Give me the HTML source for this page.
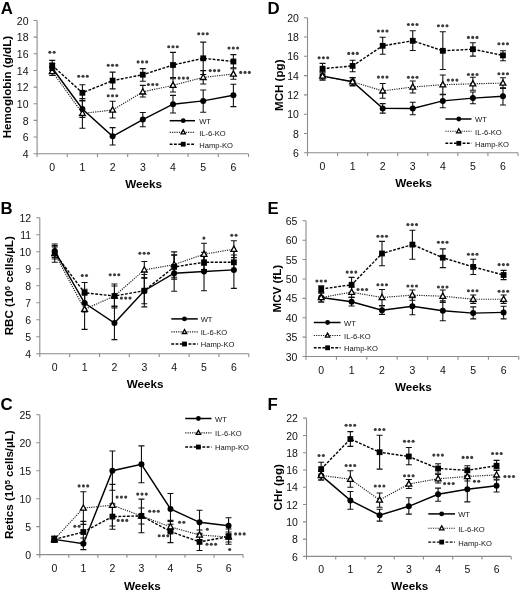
<!DOCTYPE html>
<html><head><meta charset="utf-8"><style>
html,body{margin:0;padding:0;background:#fff;}
body{width:520px;height:592px;overflow:hidden;}
svg{display:block;font-family:"Liberation Sans", sans-serif;filter:blur(0.3px);}
</style></head><body>
<svg width="520" height="592" viewBox="0 0 520 592">
<rect width="520" height="592" fill="#fff"/>
<g stroke="#8c8c8c" stroke-width="1.1" fill="none">
<path d="M37.1 20.5V156.9M33.6 153.7H248.5"/>
<path d="M33.6 137.05H37.1M33.6 120.4H37.1M33.6 103.75H37.1M33.6 87.1H37.1M33.6 70.45H37.1M33.6 53.8H37.1M33.6 37.15H37.1M33.6 20.5H37.1M67.3 153.7V156.9M97.5 153.7V156.9M127.7 153.7V156.9M157.9 153.7V156.9M188.1 153.7V156.9M218.3 153.7V156.9M248.5 153.7V156.9"/>
</g>
<g font-size="10.5" fill="#111" text-anchor="end">
<text x="28.5" y="157.8">4</text>
<text x="28.5" y="141.15">6</text>
<text x="28.5" y="124.5">8</text>
<text x="28.5" y="107.85">10</text>
<text x="28.5" y="91.2">12</text>
<text x="28.5" y="74.55">14</text>
<text x="28.5" y="57.9">16</text>
<text x="28.5" y="41.25">18</text>
<text x="28.5" y="24.6">20</text>
</g>
<g font-size="10.5" fill="#111" text-anchor="middle">
<text x="52.2" y="170.7">0</text>
<text x="82.4" y="170.7">1</text>
<text x="112.6" y="170.7">2</text>
<text x="142.8" y="170.7">3</text>
<text x="173" y="170.7">4</text>
<text x="203.2" y="170.7">5</text>
<text x="233.4" y="170.7">6</text>
</g>
<text x="143.7" y="187.8" font-size="11.7" font-weight="bold" text-anchor="middle">Weeks</text>
<text transform="translate(10.6 87.1) rotate(-90)" font-size="11.6" font-weight="bold" text-anchor="middle">Hemoglobin (g/dL)</text>
<text x="0.8" y="13.5" font-size="16.8" font-weight="bold">A</text>
<g stroke="#111" stroke-width="1.1" fill="none">
<path d="M52.2 63.5V72.5M49.2 63.5H55.2M49.2 72.5H55.2M82.4 100.5V117.5M79.4 100.5H85.4M79.4 117.5H85.4M112.6 127.6V145M109.6 127.6H115.6M109.6 145H115.6M142.8 112.5V126.7M139.8 112.5H145.8M139.8 126.7H145.8M173 95.4V113M170 95.4H176M170 113H176M203.2 90V112.3M200.2 90H206.2M200.2 112.3H206.2M233.4 84.3V106.6M230.4 84.3H236.4M230.4 106.6H236.4"/>
<path d="M52.2 67V75.5M49.2 67H55.2M49.2 75.5H55.2M82.4 98.6V128.2M79.4 98.6H85.4M79.4 128.2H85.4M112.6 101.3V118M109.6 101.3H115.6M109.6 118H115.6M142.8 85.4V97M139.8 85.4H145.8M139.8 97H145.8M173 78.7V92M170 78.7H176M170 92H176M203.2 70.6V84M200.2 70.6H206.2M200.2 84H206.2M233.4 68.8V79.2M230.4 68.8H236.4M230.4 79.2H236.4"/>
<path d="M52.2 60.4V70.4M49.2 60.4H55.2M49.2 70.4H55.2M82.4 84.7V100.9M79.4 84.7H85.4M79.4 100.9H85.4M112.6 72.1V88.9M109.6 72.1H115.6M109.6 88.9H115.6M142.8 68.6V81.2M139.8 68.6H145.8M139.8 81.2H145.8M173 52.4V77.6M170 52.4H176M170 77.6H176M203.2 42.1V74.5M200.2 42.1H206.2M200.2 74.5H206.2M233.4 54.6V67.8M230.4 54.6H236.4M230.4 67.8H236.4"/>
</g>
<polyline points="52.2,71.5 82.4,113.4 112.6,110 142.8,91.9 173,85.3 203.2,77.4 233.4,74" fill="none" stroke="#222" stroke-width="1.15" stroke-dasharray="1.2 1.1"/>
<polyline points="52.2,68 82.4,109 112.6,136.3 142.8,119.6 173,104.2 203.2,100.9 233.4,95.2" fill="none" stroke="#000" stroke-width="1.45"/>
<polyline points="52.2,65.4 82.4,92.8 112.6,80.6 142.8,74.7 173,65 203.2,58.3 233.4,61.5" fill="none" stroke="#000" stroke-width="1.4" stroke-dasharray="2.8 1.5"/>
<path d="M52.2 68.37L55.1 73.59L49.3 73.59Z" fill="#fff" stroke="#000" stroke-width="1.3"/>
<path d="M82.4 110.27L85.3 115.49L79.5 115.49Z" fill="#fff" stroke="#000" stroke-width="1.3"/>
<path d="M112.6 106.87L115.5 112.09L109.7 112.09Z" fill="#fff" stroke="#000" stroke-width="1.3"/>
<path d="M142.8 88.77L145.7 93.99L139.9 93.99Z" fill="#fff" stroke="#000" stroke-width="1.3"/>
<path d="M173 82.17L175.9 87.39L170.1 87.39Z" fill="#fff" stroke="#000" stroke-width="1.3"/>
<path d="M203.2 74.27L206.1 79.49L200.3 79.49Z" fill="#fff" stroke="#000" stroke-width="1.3"/>
<path d="M233.4 70.87L236.3 76.09L230.5 76.09Z" fill="#fff" stroke="#000" stroke-width="1.3"/>
<circle cx="52.2" cy="68" r="3" fill="#000"/>
<circle cx="82.4" cy="109" r="3" fill="#000"/>
<circle cx="112.6" cy="136.3" r="3" fill="#000"/>
<circle cx="142.8" cy="119.6" r="3" fill="#000"/>
<circle cx="173" cy="104.2" r="3" fill="#000"/>
<circle cx="203.2" cy="100.9" r="3" fill="#000"/>
<circle cx="233.4" cy="95.2" r="3" fill="#000"/>
<rect x="49.3" y="62.5" width="5.8" height="5.8" fill="#000"/>
<rect x="79.5" y="89.9" width="5.8" height="5.8" fill="#000"/>
<rect x="109.7" y="77.7" width="5.8" height="5.8" fill="#000"/>
<rect x="139.9" y="71.8" width="5.8" height="5.8" fill="#000"/>
<rect x="170.1" y="62.1" width="5.8" height="5.8" fill="#000"/>
<rect x="200.3" y="55.4" width="5.8" height="5.8" fill="#000"/>
<rect x="230.5" y="58.6" width="5.8" height="5.8" fill="#000"/>
<g fill="#3c3c3c">
<circle cx="49.85" cy="52.3" r="1.55"/>
<circle cx="54.15" cy="52.3" r="1.55"/>
<circle cx="78.7" cy="76.2" r="1.55"/>
<circle cx="83" cy="76.2" r="1.55"/>
<circle cx="87.3" cy="76.2" r="1.55"/>
<circle cx="108.2" cy="65.2" r="1.55"/>
<circle cx="112.5" cy="65.2" r="1.55"/>
<circle cx="116.8" cy="65.2" r="1.55"/>
<circle cx="108.2" cy="95.8" r="1.55"/>
<circle cx="112.5" cy="95.8" r="1.55"/>
<circle cx="116.8" cy="95.8" r="1.55"/>
<circle cx="138.1" cy="61.9" r="1.55"/>
<circle cx="142.4" cy="61.9" r="1.55"/>
<circle cx="146.7" cy="61.9" r="1.55"/>
<circle cx="148.4" cy="84.5" r="1.55"/>
<circle cx="152.7" cy="84.5" r="1.55"/>
<circle cx="157" cy="84.5" r="1.55"/>
<circle cx="168.7" cy="46.7" r="1.55"/>
<circle cx="173" cy="46.7" r="1.55"/>
<circle cx="177.3" cy="46.7" r="1.55"/>
<circle cx="179.1" cy="78.1" r="1.55"/>
<circle cx="183.4" cy="78.1" r="1.55"/>
<circle cx="187.7" cy="78.1" r="1.55"/>
<circle cx="198.7" cy="33.7" r="1.55"/>
<circle cx="203" cy="33.7" r="1.55"/>
<circle cx="207.3" cy="33.7" r="1.55"/>
<circle cx="210.2" cy="70.6" r="1.55"/>
<circle cx="214.5" cy="70.6" r="1.55"/>
<circle cx="218.8" cy="70.6" r="1.55"/>
<circle cx="229" cy="48" r="1.55"/>
<circle cx="233.3" cy="48" r="1.55"/>
<circle cx="237.6" cy="48" r="1.55"/>
<circle cx="240.7" cy="72.4" r="1.55"/>
<circle cx="245" cy="72.4" r="1.55"/>
<circle cx="249.3" cy="72.4" r="1.55"/>
</g>
<line x1="169.7" y1="120.7" x2="195" y2="120.7" stroke="#000" stroke-width="1.5"/>
<line x1="169.7" y1="132.3" x2="195" y2="132.3" stroke="#222" stroke-width="1.15" stroke-dasharray="1.2 1.1"/>
<line x1="169.7" y1="144.2" x2="195" y2="144.2" stroke="#000" stroke-width="1.4" stroke-dasharray="2.8 1.5"/>
<circle cx="183.2" cy="120.7" r="2.4" fill="#000"/>
<path d="M183.2 129.92L185.4 133.88L181 133.88Z" fill="#fff" stroke="#000" stroke-width="1.3"/>
<rect x="180.8" y="141.8" width="4.8" height="4.8" fill="#000"/>
<g font-size="7.6" fill="#111">
<text x="199.2" y="124.1">WT</text>
<text x="199.2" y="135.7">IL-6-KO</text>
<text x="199.2" y="147.6">Hamp-KO</text>
</g>
<g stroke="#8c8c8c" stroke-width="1.1" fill="none">
<path d="M307.5 17.7V156M304 152.8H517.99"/>
<path d="M304 133.5H307.5M304 114.2H307.5M304 94.9H307.5M304 75.6H307.5M304 56.3H307.5M304 37H307.5M304 17.7H307.5M337.57 152.8V156M367.64 152.8V156M397.71 152.8V156M427.78 152.8V156M457.85 152.8V156M487.92 152.8V156M517.99 152.8V156"/>
</g>
<g font-size="10.5" fill="#111" text-anchor="end">
<text x="298.9" y="156.9">6</text>
<text x="298.9" y="137.6">8</text>
<text x="298.9" y="118.3">10</text>
<text x="298.9" y="99">12</text>
<text x="298.9" y="79.7">14</text>
<text x="298.9" y="60.4">16</text>
<text x="298.9" y="41.1">18</text>
<text x="298.9" y="21.8">20</text>
</g>
<g font-size="10.5" fill="#111" text-anchor="middle">
<text x="322.54" y="169.8">0</text>
<text x="352.61" y="169.8">1</text>
<text x="382.68" y="169.8">2</text>
<text x="412.75" y="169.8">3</text>
<text x="442.81" y="169.8">4</text>
<text x="472.88" y="169.8">5</text>
<text x="502.96" y="169.8">6</text>
</g>
<text x="413.64" y="187.4" font-size="11.7" font-weight="bold" text-anchor="middle">Weeks</text>
<text transform="translate(283 85.25) rotate(-90)" font-size="11.6" font-weight="bold" text-anchor="middle">MCH (pg)</text>
<text x="267.6" y="13.8" font-size="16.8" font-weight="bold">D</text>
<g stroke="#111" stroke-width="1.1" fill="none">
<path d="M322.54 72V80M319.54 72H325.54M319.54 80H325.54M352.61 78V85.5M349.61 78H355.61M349.61 85.5H355.61M382.68 103.6V113.1M379.68 103.6H385.68M379.68 113.1H385.68M412.75 102.2V114.7M409.75 102.2H415.75M409.75 114.7H415.75M442.81 94.6V107.8M439.81 94.6H445.81M439.81 107.8H445.81M472.88 92V103.8M469.88 92H475.88M469.88 103.8H475.88M502.96 88.4V105M499.96 88.4H505.96M499.96 105H505.96"/>
<path d="M322.54 72V80M319.54 72H325.54M319.54 80H325.54M352.61 77.5V86M349.61 77.5H355.61M349.61 86H355.61M382.68 83.5V98.3M379.68 83.5H385.68M379.68 98.3H385.68M412.75 81V93M409.75 81H415.75M409.75 93H415.75M442.81 75V94.4M439.81 75H445.81M439.81 94.4H445.81M472.88 77.3V90.3M469.88 77.3H475.88M469.88 90.3H475.88M502.96 77.8V87.7M499.96 77.8H505.96M499.96 87.7H505.96"/>
<path d="M322.54 63.4V74M319.54 63.4H325.54M319.54 74H325.54M352.61 60.2V71.8M349.61 60.2H355.61M349.61 71.8H355.61M382.68 37.3V54.3M379.68 37.3H385.68M379.68 54.3H385.68M412.75 30.7V50.5M409.75 30.7H415.75M409.75 50.5H415.75M442.81 31.8V69.5M439.81 31.8H445.81M439.81 69.5H445.81M472.88 42.7V56.1M469.88 42.7H475.88M469.88 56.1H475.88M502.96 50.8V60.7M499.96 50.8H505.96M499.96 60.7H505.96"/>
</g>
<polyline points="322.54,76.1 352.61,81.8 382.68,90.9 412.75,87 442.81,84.7 472.88,83.8 502.96,83.1" fill="none" stroke="#222" stroke-width="1.15" stroke-dasharray="1.2 1.1"/>
<polyline points="322.54,76.1 352.61,81.8 382.68,108.4 412.75,108.5 442.81,100.9 472.88,98.1 502.96,96.2" fill="none" stroke="#000" stroke-width="1.45"/>
<polyline points="322.54,68.7 352.61,65.9 382.68,45.8 412.75,40.8 442.81,50.8 472.88,49.2 502.96,55.4" fill="none" stroke="#000" stroke-width="1.4" stroke-dasharray="2.8 1.5"/>
<circle cx="322.54" cy="76.1" r="3" fill="#000"/>
<circle cx="352.61" cy="81.8" r="3" fill="#000"/>
<circle cx="382.68" cy="108.4" r="3" fill="#000"/>
<circle cx="412.75" cy="108.5" r="3" fill="#000"/>
<circle cx="442.81" cy="100.9" r="3" fill="#000"/>
<circle cx="472.88" cy="98.1" r="3" fill="#000"/>
<circle cx="502.96" cy="96.2" r="3" fill="#000"/>
<path d="M322.54 72.97L325.44 78.19L319.64 78.19Z" fill="#fff" stroke="#000" stroke-width="1.3"/>
<path d="M352.61 78.67L355.5 83.89L349.71 83.89Z" fill="#fff" stroke="#000" stroke-width="1.3"/>
<path d="M382.68 87.77L385.57 92.99L379.78 92.99Z" fill="#fff" stroke="#000" stroke-width="1.3"/>
<path d="M412.75 83.87L415.64 89.09L409.85 89.09Z" fill="#fff" stroke="#000" stroke-width="1.3"/>
<path d="M442.81 81.57L445.71 86.79L439.92 86.79Z" fill="#fff" stroke="#000" stroke-width="1.3"/>
<path d="M472.88 80.67L475.78 85.89L469.99 85.89Z" fill="#fff" stroke="#000" stroke-width="1.3"/>
<path d="M502.96 79.97L505.86 85.19L500.06 85.19Z" fill="#fff" stroke="#000" stroke-width="1.3"/>
<rect x="319.64" y="65.8" width="5.8" height="5.8" fill="#000"/>
<rect x="349.71" y="63" width="5.8" height="5.8" fill="#000"/>
<rect x="379.78" y="42.9" width="5.8" height="5.8" fill="#000"/>
<rect x="409.85" y="37.9" width="5.8" height="5.8" fill="#000"/>
<rect x="439.92" y="47.9" width="5.8" height="5.8" fill="#000"/>
<rect x="469.99" y="46.3" width="5.8" height="5.8" fill="#000"/>
<rect x="500.06" y="52.5" width="5.8" height="5.8" fill="#000"/>
<g fill="#3c3c3c">
<circle cx="319.1" cy="57.7" r="1.55"/>
<circle cx="323.4" cy="57.7" r="1.55"/>
<circle cx="327.7" cy="57.7" r="1.55"/>
<circle cx="348.7" cy="53.4" r="1.55"/>
<circle cx="353" cy="53.4" r="1.55"/>
<circle cx="357.3" cy="53.4" r="1.55"/>
<circle cx="378.4" cy="31" r="1.55"/>
<circle cx="382.7" cy="31" r="1.55"/>
<circle cx="387" cy="31" r="1.55"/>
<circle cx="378.4" cy="77.1" r="1.55"/>
<circle cx="382.7" cy="77.1" r="1.55"/>
<circle cx="387" cy="77.1" r="1.55"/>
<circle cx="408.4" cy="24.5" r="1.55"/>
<circle cx="412.7" cy="24.5" r="1.55"/>
<circle cx="417" cy="24.5" r="1.55"/>
<circle cx="408.4" cy="77.3" r="1.55"/>
<circle cx="412.7" cy="77.3" r="1.55"/>
<circle cx="417" cy="77.3" r="1.55"/>
<circle cx="438.4" cy="25.8" r="1.55"/>
<circle cx="442.7" cy="25.8" r="1.55"/>
<circle cx="447" cy="25.8" r="1.55"/>
<circle cx="448.3" cy="80.1" r="1.55"/>
<circle cx="452.6" cy="80.1" r="1.55"/>
<circle cx="456.9" cy="80.1" r="1.55"/>
<circle cx="468.4" cy="37.4" r="1.55"/>
<circle cx="472.7" cy="37.4" r="1.55"/>
<circle cx="477" cy="37.4" r="1.55"/>
<circle cx="468.4" cy="74.5" r="1.55"/>
<circle cx="472.7" cy="74.5" r="1.55"/>
<circle cx="477" cy="74.5" r="1.55"/>
<circle cx="498.9" cy="43.8" r="1.55"/>
<circle cx="503.2" cy="43.8" r="1.55"/>
<circle cx="507.5" cy="43.8" r="1.55"/>
<circle cx="498.9" cy="73.8" r="1.55"/>
<circle cx="503.2" cy="73.8" r="1.55"/>
<circle cx="507.5" cy="73.8" r="1.55"/>
</g>
<line x1="445.4" y1="119" x2="471.5" y2="119" stroke="#000" stroke-width="1.5"/>
<line x1="445.4" y1="131.2" x2="471.5" y2="131.2" stroke="#222" stroke-width="1.15" stroke-dasharray="1.2 1.1"/>
<line x1="445.4" y1="143.3" x2="471.5" y2="143.3" stroke="#000" stroke-width="1.4" stroke-dasharray="2.8 1.5"/>
<circle cx="458.8" cy="119" r="2.4" fill="#000"/>
<path d="M458.8 128.82L461 132.78L456.6 132.78Z" fill="#fff" stroke="#000" stroke-width="1.3"/>
<rect x="456.4" y="140.9" width="4.8" height="4.8" fill="#000"/>
<g font-size="7.6" fill="#111">
<text x="475.1" y="122.4">WT</text>
<text x="475.1" y="134.6">IL-6-KO</text>
<text x="475.1" y="146.7">Hamp-KO</text>
</g>
<g stroke="#8c8c8c" stroke-width="1.1" fill="none">
<path d="M39.8 217.8V357M36.3 353.8H248.82"/>
<path d="M36.3 336.8H39.8M36.3 319.8H39.8M36.3 302.8H39.8M36.3 285.8H39.8M36.3 268.8H39.8M36.3 251.8H39.8M36.3 234.8H39.8M36.3 217.8H39.8M69.66 353.8V357M99.52 353.8V357M129.38 353.8V357M159.24 353.8V357M189.1 353.8V357M218.96 353.8V357M248.82 353.8V357"/>
</g>
<g font-size="10.5" fill="#111" text-anchor="end">
<text x="31.2" y="357.9">4</text>
<text x="31.2" y="340.9">5</text>
<text x="31.2" y="323.9">6</text>
<text x="31.2" y="306.9">7</text>
<text x="31.2" y="289.9">8</text>
<text x="31.2" y="272.9">9</text>
<text x="31.2" y="255.9">10</text>
<text x="31.2" y="238.9">11</text>
<text x="31.2" y="221.9">12</text>
</g>
<g font-size="10.5" fill="#111" text-anchor="middle">
<text x="54.73" y="370.8">0</text>
<text x="84.59" y="370.8">1</text>
<text x="114.45" y="370.8">2</text>
<text x="144.31" y="370.8">3</text>
<text x="174.17" y="370.8">4</text>
<text x="204.03" y="370.8">5</text>
<text x="233.89" y="370.8">6</text>
</g>
<text x="145.21" y="387.8" font-size="11.7" font-weight="bold" text-anchor="middle">Weeks</text>
<text transform="translate(13.4 285.8) rotate(-90)" font-size="11.6" font-weight="bold" text-anchor="middle">RBC (10<tspan dy="-3.5" font-size="7.5">6</tspan><tspan dy="3.5"> cells/µL)</tspan></text>
<text x="0.4" y="213.9" font-size="16.8" font-weight="bold">B</text>
<g stroke="#111" stroke-width="1.1" fill="none">
<path d="M54.73 244V259M51.73 244H57.73M51.73 259H57.73M84.59 294V312M81.59 294H87.59M81.59 312H87.59M114.45 306.6V339.6M111.45 306.6H117.45M111.45 339.6H117.45M144.31 274.5V306.9M141.31 274.5H147.31M141.31 306.9H147.31M174.17 255.2V291.2M171.17 255.2H177.17M171.17 291.2H177.17M204.03 252.3V290.7M201.03 252.3H207.03M201.03 290.7H207.03M233.89 251.5V288.4M230.89 251.5H236.89M230.89 288.4H236.89"/>
<path d="M54.73 245.5V262.2M51.73 245.5H57.73M51.73 262.2H57.73M84.59 289.2V329.4M81.59 289.2H87.59M81.59 329.4H87.59M114.45 286V306M111.45 286H117.45M111.45 306H117.45M144.31 261.5V278.3M141.31 261.5H147.31M141.31 278.3H147.31M174.17 251.9V277.3M171.17 251.9H177.17M171.17 277.3H177.17M204.03 243.2V265.2M201.03 243.2H207.03M201.03 265.2H207.03M233.89 240.8V257.6M230.89 240.8H236.89M230.89 257.6H236.89"/>
<path d="M54.73 246.9V257.5M51.73 246.9H57.73M51.73 257.5H57.73M84.59 282.5V303.1M81.59 282.5H87.59M81.59 303.1H87.59M114.45 284V308M111.45 284H117.45M111.45 308H117.45M144.31 277.6V303.8M141.31 277.6H147.31M141.31 303.8H147.31M174.17 254.7V279.1M171.17 254.7H177.17M171.17 279.1H177.17M204.03 255V269.6M201.03 255H207.03M201.03 269.6H207.03M233.89 255V269.6M230.89 255H236.89M230.89 269.6H236.89"/>
</g>
<polyline points="54.73,253.5 84.59,309.3 114.45,296 144.31,269.9 174.17,264.6 204.03,254.2 233.89,249.2" fill="none" stroke="#222" stroke-width="1.15" stroke-dasharray="1.2 1.1"/>
<polyline points="54.73,251 84.59,303 114.45,323.1 144.31,290.7 174.17,273.2 204.03,271.5 233.89,269.9" fill="none" stroke="#000" stroke-width="1.45"/>
<polyline points="54.73,253.3 84.59,292.8 114.45,296 144.31,290.7 174.17,266.9 204.03,262.3 233.89,262.3" fill="none" stroke="#000" stroke-width="1.4" stroke-dasharray="2.8 1.5"/>
<path d="M54.73 250.37L57.63 255.59L51.83 255.59Z" fill="#fff" stroke="#000" stroke-width="1.3"/>
<path d="M84.59 306.17L87.49 311.39L81.69 311.39Z" fill="#fff" stroke="#000" stroke-width="1.3"/>
<path d="M114.45 292.87L117.35 298.09L111.55 298.09Z" fill="#fff" stroke="#000" stroke-width="1.3"/>
<path d="M144.31 266.77L147.21 271.99L141.41 271.99Z" fill="#fff" stroke="#000" stroke-width="1.3"/>
<path d="M174.17 261.47L177.07 266.69L171.27 266.69Z" fill="#fff" stroke="#000" stroke-width="1.3"/>
<path d="M204.03 251.07L206.93 256.29L201.13 256.29Z" fill="#fff" stroke="#000" stroke-width="1.3"/>
<path d="M233.89 246.07L236.79 251.29L230.99 251.29Z" fill="#fff" stroke="#000" stroke-width="1.3"/>
<circle cx="54.73" cy="251" r="3" fill="#000"/>
<circle cx="84.59" cy="303" r="3" fill="#000"/>
<circle cx="114.45" cy="323.1" r="3" fill="#000"/>
<circle cx="144.31" cy="290.7" r="3" fill="#000"/>
<circle cx="174.17" cy="273.2" r="3" fill="#000"/>
<circle cx="204.03" cy="271.5" r="3" fill="#000"/>
<circle cx="233.89" cy="269.9" r="3" fill="#000"/>
<rect x="51.83" y="250.4" width="5.8" height="5.8" fill="#000"/>
<rect x="81.69" y="289.9" width="5.8" height="5.8" fill="#000"/>
<rect x="111.55" y="293.1" width="5.8" height="5.8" fill="#000"/>
<rect x="141.41" y="287.8" width="5.8" height="5.8" fill="#000"/>
<rect x="171.27" y="264" width="5.8" height="5.8" fill="#000"/>
<rect x="201.13" y="259.4" width="5.8" height="5.8" fill="#000"/>
<rect x="230.99" y="259.4" width="5.8" height="5.8" fill="#000"/>
<g fill="#3c3c3c">
<circle cx="82.25" cy="275.5" r="1.55"/>
<circle cx="86.55" cy="275.5" r="1.55"/>
<circle cx="110.2" cy="274.8" r="1.55"/>
<circle cx="114.5" cy="274.8" r="1.55"/>
<circle cx="118.8" cy="274.8" r="1.55"/>
<circle cx="121.4" cy="298.1" r="1.55"/>
<circle cx="125.7" cy="298.1" r="1.55"/>
<circle cx="130" cy="298.1" r="1.55"/>
<circle cx="139.9" cy="253.2" r="1.55"/>
<circle cx="144.2" cy="253.2" r="1.55"/>
<circle cx="148.5" cy="253.2" r="1.55"/>
<circle cx="203.9" cy="238.1" r="1.55"/>
<circle cx="231.75" cy="235.3" r="1.55"/>
<circle cx="236.05" cy="235.3" r="1.55"/>
</g>
<line x1="171.3" y1="318.9" x2="197.8" y2="318.9" stroke="#000" stroke-width="1.5"/>
<line x1="171.3" y1="331.9" x2="197.8" y2="331.9" stroke="#222" stroke-width="1.15" stroke-dasharray="1.2 1.1"/>
<line x1="171.3" y1="344" x2="197.8" y2="344" stroke="#000" stroke-width="1.4" stroke-dasharray="2.8 1.5"/>
<circle cx="184.5" cy="318.9" r="2.4" fill="#000"/>
<path d="M184.5 329.52L186.7 333.48L182.3 333.48Z" fill="#fff" stroke="#000" stroke-width="1.3"/>
<rect x="182.1" y="341.6" width="4.8" height="4.8" fill="#000"/>
<g font-size="7.6" fill="#111">
<text x="200.7" y="322.3">WT</text>
<text x="200.7" y="335.3">IL-6-KO</text>
<text x="200.7" y="347.4">Hamp-KO</text>
</g>
<g stroke="#8c8c8c" stroke-width="1.1" fill="none">
<path d="M306 220.81V359.7M302.5 356.5H518.8"/>
<path d="M302.5 337.12H306M302.5 317.73H306M302.5 298.35H306M302.5 278.96H306M302.5 259.57H306M302.5 240.19H306M302.5 220.81H306M336.4 356.5V359.7M366.8 356.5V359.7M397.2 356.5V359.7M427.6 356.5V359.7M458 356.5V359.7M488.4 356.5V359.7M518.8 356.5V359.7"/>
</g>
<g font-size="10.5" fill="#111" text-anchor="end">
<text x="297.4" y="360.6">30</text>
<text x="297.4" y="341.22">35</text>
<text x="297.4" y="321.83">40</text>
<text x="297.4" y="302.45">45</text>
<text x="297.4" y="283.06">50</text>
<text x="297.4" y="263.68">55</text>
<text x="297.4" y="244.29">60</text>
<text x="297.4" y="224.91">65</text>
</g>
<g font-size="10.5" fill="#111" text-anchor="middle">
<text x="321.2" y="373.5">0</text>
<text x="351.6" y="373.5">1</text>
<text x="382" y="373.5">2</text>
<text x="412.4" y="373.5">3</text>
<text x="442.8" y="373.5">4</text>
<text x="473.2" y="373.5">5</text>
<text x="503.6" y="373.5">6</text>
</g>
<text x="413.3" y="390.8" font-size="11.7" font-weight="bold" text-anchor="middle">Weeks</text>
<text transform="translate(280.5 288.65) rotate(-90)" font-size="11.6" font-weight="bold" text-anchor="middle">MCV (fL)</text>
<text x="267.6" y="213.8" font-size="16.8" font-weight="bold">E</text>
<g stroke="#111" stroke-width="1.1" fill="none">
<path d="M321.2 293V302M318.2 293H324.2M318.2 302H324.2M351.6 297.4V306M348.6 297.4H354.6M348.6 306H354.6M382 306V314.4M379 306H385M379 314.4H385M412.4 297.7V314.7M409.4 297.7H415.4M409.4 314.7H415.4M442.8 300.9V320.7M439.8 300.9H445.8M439.8 320.7H445.8M473.2 306.9V318.9M470.2 306.9H476.2M470.2 318.9H476.2M503.6 306.2V318.9M500.6 306.2H506.6M500.6 318.9H506.6"/>
<path d="M321.2 293V302M318.2 293H324.2M318.2 302H324.2M351.6 287V297.4M348.6 287H354.6M348.6 297.4H354.6M382 289.5V305.5M379 289.5H385M379 305.5H385M412.4 290V300.2M409.4 290H415.4M409.4 300.2H415.4M442.8 290V302.4M439.8 290H445.8M439.8 302.4H445.8M473.2 295V303.4M470.2 295H476.2M470.2 303.4H476.2M503.6 295V303.4M500.6 295H506.6M500.6 303.4H506.6"/>
<path d="M321.2 285.9V292.1M318.2 285.9H324.2M318.2 292.1H324.2M351.6 277.4V292.2M348.6 277.4H354.6M348.6 292.2H354.6M382 241.4V265.8M379 241.4H385M379 265.8H385M412.4 230.2V259.3M409.4 230.2H415.4M409.4 259.3H415.4M442.8 248.9V267.6M439.8 248.9H445.8M439.8 267.6H445.8M473.2 259.3V274.5M470.2 259.3H476.2M470.2 274.5H476.2M503.6 270.4V279.6M500.6 270.4H506.6M500.6 279.6H506.6"/>
</g>
<polyline points="321.2,297.5 351.6,292.2 382,297.5 412.4,295.1 442.8,296.2 473.2,299.2 503.6,299.2" fill="none" stroke="#222" stroke-width="1.15" stroke-dasharray="1.2 1.1"/>
<polyline points="321.2,297.5 351.6,301.7 382,310.2 412.4,306.2 442.8,310.8 473.2,313.1 503.6,312.4" fill="none" stroke="#000" stroke-width="1.45"/>
<polyline points="321.2,289 351.6,284.8 382,253.5 412.4,244.6 442.8,257.7 473.2,266.9 503.6,275" fill="none" stroke="#000" stroke-width="1.4" stroke-dasharray="2.8 1.5"/>
<circle cx="321.2" cy="297.5" r="3" fill="#000"/>
<circle cx="351.6" cy="301.7" r="3" fill="#000"/>
<circle cx="382" cy="310.2" r="3" fill="#000"/>
<circle cx="412.4" cy="306.2" r="3" fill="#000"/>
<circle cx="442.8" cy="310.8" r="3" fill="#000"/>
<circle cx="473.2" cy="313.1" r="3" fill="#000"/>
<circle cx="503.6" cy="312.4" r="3" fill="#000"/>
<path d="M321.2 294.37L324.1 299.59L318.3 299.59Z" fill="#fff" stroke="#000" stroke-width="1.3"/>
<path d="M351.6 289.07L354.5 294.29L348.7 294.29Z" fill="#fff" stroke="#000" stroke-width="1.3"/>
<path d="M382 294.37L384.9 299.59L379.1 299.59Z" fill="#fff" stroke="#000" stroke-width="1.3"/>
<path d="M412.4 291.97L415.3 297.19L409.5 297.19Z" fill="#fff" stroke="#000" stroke-width="1.3"/>
<path d="M442.8 293.07L445.7 298.29L439.9 298.29Z" fill="#fff" stroke="#000" stroke-width="1.3"/>
<path d="M473.2 296.07L476.1 301.29L470.3 301.29Z" fill="#fff" stroke="#000" stroke-width="1.3"/>
<path d="M503.6 296.07L506.5 301.29L500.7 301.29Z" fill="#fff" stroke="#000" stroke-width="1.3"/>
<rect x="318.3" y="286.1" width="5.8" height="5.8" fill="#000"/>
<rect x="348.7" y="281.9" width="5.8" height="5.8" fill="#000"/>
<rect x="379.1" y="250.6" width="5.8" height="5.8" fill="#000"/>
<rect x="409.5" y="241.7" width="5.8" height="5.8" fill="#000"/>
<rect x="439.9" y="254.8" width="5.8" height="5.8" fill="#000"/>
<rect x="470.3" y="264" width="5.8" height="5.8" fill="#000"/>
<rect x="500.7" y="272.1" width="5.8" height="5.8" fill="#000"/>
<g fill="#3c3c3c">
<circle cx="316.9" cy="281" r="1.55"/>
<circle cx="321.2" cy="281" r="1.55"/>
<circle cx="325.5" cy="281" r="1.55"/>
<circle cx="347.2" cy="272.1" r="1.55"/>
<circle cx="351.5" cy="272.1" r="1.55"/>
<circle cx="355.8" cy="272.1" r="1.55"/>
<circle cx="358" cy="289.5" r="1.55"/>
<circle cx="362.3" cy="289.5" r="1.55"/>
<circle cx="366.6" cy="289.5" r="1.55"/>
<circle cx="377.9" cy="236.2" r="1.55"/>
<circle cx="382.2" cy="236.2" r="1.55"/>
<circle cx="386.5" cy="236.2" r="1.55"/>
<circle cx="377.9" cy="284.8" r="1.55"/>
<circle cx="382.2" cy="284.8" r="1.55"/>
<circle cx="386.5" cy="284.8" r="1.55"/>
<circle cx="407.9" cy="224.6" r="1.55"/>
<circle cx="412.2" cy="224.6" r="1.55"/>
<circle cx="416.5" cy="224.6" r="1.55"/>
<circle cx="407.9" cy="286" r="1.55"/>
<circle cx="412.2" cy="286" r="1.55"/>
<circle cx="416.5" cy="286" r="1.55"/>
<circle cx="438.4" cy="242.2" r="1.55"/>
<circle cx="442.7" cy="242.2" r="1.55"/>
<circle cx="447" cy="242.2" r="1.55"/>
<circle cx="438.4" cy="287" r="1.55"/>
<circle cx="442.7" cy="287" r="1.55"/>
<circle cx="447" cy="287" r="1.55"/>
<circle cx="468.4" cy="254.2" r="1.55"/>
<circle cx="472.7" cy="254.2" r="1.55"/>
<circle cx="477" cy="254.2" r="1.55"/>
<circle cx="468.4" cy="290.7" r="1.55"/>
<circle cx="472.7" cy="290.7" r="1.55"/>
<circle cx="477" cy="290.7" r="1.55"/>
<circle cx="499.1" cy="264.6" r="1.55"/>
<circle cx="503.4" cy="264.6" r="1.55"/>
<circle cx="507.7" cy="264.6" r="1.55"/>
<circle cx="499.1" cy="291.2" r="1.55"/>
<circle cx="503.4" cy="291.2" r="1.55"/>
<circle cx="507.7" cy="291.2" r="1.55"/>
</g>
<line x1="313.8" y1="322.5" x2="340.6" y2="322.5" stroke="#000" stroke-width="1.5"/>
<line x1="313.8" y1="335.5" x2="340.6" y2="335.5" stroke="#222" stroke-width="1.15" stroke-dasharray="1.2 1.1"/>
<line x1="313.8" y1="347.8" x2="340.6" y2="347.8" stroke="#000" stroke-width="1.4" stroke-dasharray="2.8 1.5"/>
<circle cx="327.6" cy="322.5" r="2.4" fill="#000"/>
<path d="M327.6 333.12L329.8 337.08L325.4 337.08Z" fill="#fff" stroke="#000" stroke-width="1.3"/>
<rect x="325.2" y="345.4" width="4.8" height="4.8" fill="#000"/>
<g font-size="7.6" fill="#111">
<text x="344.1" y="325.9">WT</text>
<text x="344.1" y="338.9">IL-6-KO</text>
<text x="344.1" y="351.2">Hamp-KO</text>
</g>
<g stroke="#8c8c8c" stroke-width="1.1" fill="none">
<path d="M39.8 414.8V557.8M36.3 554.6H243.08"/>
<path d="M36.3 526.64H39.8M36.3 498.68H39.8M36.3 470.72H39.8M36.3 442.76H39.8M36.3 414.8H39.8M68.84 554.6V557.8M97.88 554.6V557.8M126.92 554.6V557.8M155.96 554.6V557.8M185 554.6V557.8M214.04 554.6V557.8M243.08 554.6V557.8"/>
</g>
<g font-size="10.5" fill="#111" text-anchor="end">
<text x="31.2" y="558.7">0</text>
<text x="31.2" y="530.74">5</text>
<text x="31.2" y="502.78">10</text>
<text x="31.2" y="474.82">15</text>
<text x="31.2" y="446.86">20</text>
<text x="31.2" y="418.9">25</text>
</g>
<g font-size="10.5" fill="#111" text-anchor="middle">
<text x="54.32" y="571.6">0</text>
<text x="83.36" y="571.6">1</text>
<text x="112.4" y="571.6">2</text>
<text x="141.44" y="571.6">3</text>
<text x="170.48" y="571.6">4</text>
<text x="199.52" y="571.6">5</text>
<text x="228.56" y="571.6">6</text>
</g>
<text x="142.34" y="589.8" font-size="11.7" font-weight="bold" text-anchor="middle">Weeks</text>
<text transform="translate(13.2 484.7) rotate(-90)" font-size="11.6" font-weight="bold" text-anchor="middle">Retics (10<tspan dy="-3.5" font-size="7.5">5</tspan><tspan dy="3.5"> cells/µL)</tspan></text>
<text x="0.4" y="410.4" font-size="16.8" font-weight="bold">C</text>
<g stroke="#111" stroke-width="1.1" fill="none">
<path d="M54.32 536.3V542.5M51.32 536.3H57.32M51.32 542.5H57.32M83.36 538V549.6M80.36 538H86.36M80.36 549.6H86.36M112.4 451V490.3M109.4 451H115.4M109.4 490.3H115.4M141.44 445.9V482.7M138.44 445.9H144.44M138.44 482.7H144.44M170.48 493.5V524.3M167.48 493.5H173.48M167.48 524.3H173.48M199.52 510.3V534.3M196.52 510.3H202.52M196.52 534.3H202.52M228.56 517.7V533.9M225.56 517.7H231.56M225.56 533.9H231.56"/>
<path d="M54.32 536.5V542.3M51.32 536.5H57.32M51.32 542.3H57.32M83.36 491.8V524.4M80.36 491.8H86.36M80.36 524.4H86.36M112.4 484.4V526M109.4 484.4H115.4M109.4 526H115.4M141.44 508V524M138.44 508H144.44M138.44 524H144.44M170.48 521.5V532.3M167.48 521.5H173.48M167.48 532.3H173.48M199.52 530V540M196.52 530H202.52M196.52 540H202.52M228.56 532V542M225.56 532H231.56M225.56 542H231.56"/>
<path d="M54.32 536.3V542.5M51.32 536.3H57.32M51.32 542.5H57.32M83.36 521.4V542.6M80.36 521.4H86.36M80.36 542.6H86.36M112.4 503.9V529.3M109.4 503.9H115.4M109.4 529.3H115.4M141.44 499.1V532.7M138.44 499.1H144.44M138.44 532.7H144.44M170.48 520.4V542.6M167.48 520.4H173.48M167.48 542.6H173.48M199.52 533.3V550.5M196.52 533.3H202.52M196.52 550.5H202.52M228.56 529V544.2M225.56 529H231.56M225.56 544.2H231.56"/>
</g>
<polyline points="54.32,539.4 83.36,508.1 112.4,505.2 141.44,516 170.48,526.9 199.52,535 228.56,537" fill="none" stroke="#222" stroke-width="1.15" stroke-dasharray="1.2 1.1"/>
<polyline points="54.32,539.4 83.36,543.7 112.4,470.7 141.44,464.3 170.48,508.9 199.52,522.3 228.56,525.8" fill="none" stroke="#000" stroke-width="1.45"/>
<polyline points="54.32,539.4 83.36,532 112.4,516.6 141.44,515.9 170.48,531.5 199.52,541.9 228.56,536.6" fill="none" stroke="#000" stroke-width="1.4" stroke-dasharray="2.8 1.5"/>
<path d="M54.32 536.27L57.22 541.49L51.42 541.49Z" fill="#fff" stroke="#000" stroke-width="1.3"/>
<path d="M83.36 504.97L86.26 510.19L80.46 510.19Z" fill="#fff" stroke="#000" stroke-width="1.3"/>
<path d="M112.4 502.07L115.3 507.29L109.5 507.29Z" fill="#fff" stroke="#000" stroke-width="1.3"/>
<path d="M141.44 512.87L144.34 518.09L138.54 518.09Z" fill="#fff" stroke="#000" stroke-width="1.3"/>
<path d="M170.48 523.77L173.38 528.99L167.58 528.99Z" fill="#fff" stroke="#000" stroke-width="1.3"/>
<path d="M199.52 531.87L202.42 537.09L196.62 537.09Z" fill="#fff" stroke="#000" stroke-width="1.3"/>
<path d="M228.56 533.87L231.46 539.09L225.66 539.09Z" fill="#fff" stroke="#000" stroke-width="1.3"/>
<circle cx="54.32" cy="539.4" r="3" fill="#000"/>
<circle cx="83.36" cy="543.7" r="3" fill="#000"/>
<circle cx="112.4" cy="470.7" r="3" fill="#000"/>
<circle cx="141.44" cy="464.3" r="3" fill="#000"/>
<circle cx="170.48" cy="508.9" r="3" fill="#000"/>
<circle cx="199.52" cy="522.3" r="3" fill="#000"/>
<circle cx="228.56" cy="525.8" r="3" fill="#000"/>
<rect x="51.42" y="536.5" width="5.8" height="5.8" fill="#000"/>
<rect x="80.46" y="529.1" width="5.8" height="5.8" fill="#000"/>
<rect x="109.5" y="513.7" width="5.8" height="5.8" fill="#000"/>
<rect x="138.54" y="513" width="5.8" height="5.8" fill="#000"/>
<rect x="167.58" y="528.6" width="5.8" height="5.8" fill="#000"/>
<rect x="196.62" y="539" width="5.8" height="5.8" fill="#000"/>
<rect x="225.66" y="533.7" width="5.8" height="5.8" fill="#000"/>
<g fill="#3c3c3c">
<circle cx="79.1" cy="485.9" r="1.55"/>
<circle cx="83.4" cy="485.9" r="1.55"/>
<circle cx="87.7" cy="485.9" r="1.55"/>
<circle cx="74.85" cy="526.3" r="1.55"/>
<circle cx="79.15" cy="526.3" r="1.55"/>
<circle cx="117.1" cy="497.1" r="1.55"/>
<circle cx="121.4" cy="497.1" r="1.55"/>
<circle cx="125.7" cy="497.1" r="1.55"/>
<circle cx="118.2" cy="520.4" r="1.55"/>
<circle cx="122.5" cy="520.4" r="1.55"/>
<circle cx="126.8" cy="520.4" r="1.55"/>
<circle cx="137.7" cy="494.1" r="1.55"/>
<circle cx="142" cy="494.1" r="1.55"/>
<circle cx="146.3" cy="494.1" r="1.55"/>
<circle cx="149.7" cy="511.2" r="1.55"/>
<circle cx="154" cy="511.2" r="1.55"/>
<circle cx="158.3" cy="511.2" r="1.55"/>
<circle cx="179.55" cy="522.3" r="1.55"/>
<circle cx="183.85" cy="522.3" r="1.55"/>
<circle cx="159.2" cy="535.7" r="1.55"/>
<circle cx="163.5" cy="535.7" r="1.55"/>
<circle cx="167.8" cy="535.7" r="1.55"/>
<circle cx="207.3" cy="529.2" r="1.55"/>
<circle cx="207" cy="544.2" r="1.55"/>
<circle cx="211.3" cy="544.2" r="1.55"/>
<circle cx="215.6" cy="544.2" r="1.55"/>
<circle cx="235.6" cy="533.9" r="1.55"/>
<circle cx="239.9" cy="533.9" r="1.55"/>
<circle cx="244.2" cy="533.9" r="1.55"/>
<circle cx="229.7" cy="549.5" r="1.55"/>
</g>
<line x1="185.2" y1="418.5" x2="211.5" y2="418.5" stroke="#000" stroke-width="1.5"/>
<line x1="185.2" y1="432.8" x2="211.5" y2="432.8" stroke="#222" stroke-width="1.15" stroke-dasharray="1.2 1.1"/>
<line x1="185.2" y1="447" x2="211.5" y2="447" stroke="#000" stroke-width="1.4" stroke-dasharray="2.8 1.5"/>
<circle cx="198.4" cy="418.5" r="2.4" fill="#000"/>
<path d="M198.4 430.42L200.6 434.38L196.2 434.38Z" fill="#fff" stroke="#000" stroke-width="1.3"/>
<rect x="196" y="444.6" width="4.8" height="4.8" fill="#000"/>
<g font-size="7.6" fill="#111">
<text x="215.1" y="421.9">WT</text>
<text x="215.1" y="436.2">IL-6-KO</text>
<text x="215.1" y="450.4">Hamp-KO</text>
</g>
<g stroke="#8c8c8c" stroke-width="1.1" fill="none">
<path d="M306.5 418.16V559.6M303 556.4H511.18"/>
<path d="M303 539.12H306.5M303 521.84H306.5M303 504.56H306.5M303 487.28H306.5M303 470H306.5M303 452.72H306.5M303 435.44H306.5M303 418.16H306.5M335.74 556.4V559.6M364.98 556.4V559.6M394.22 556.4V559.6M423.46 556.4V559.6M452.7 556.4V559.6M481.94 556.4V559.6M511.18 556.4V559.6"/>
</g>
<g font-size="10.5" fill="#111" text-anchor="end">
<text x="297.9" y="560.5">6</text>
<text x="297.9" y="543.22">8</text>
<text x="297.9" y="525.94">10</text>
<text x="297.9" y="508.66">12</text>
<text x="297.9" y="491.38">14</text>
<text x="297.9" y="474.1">16</text>
<text x="297.9" y="456.82">18</text>
<text x="297.9" y="439.54">20</text>
<text x="297.9" y="422.26">22</text>
</g>
<g font-size="10.5" fill="#111" text-anchor="middle">
<text x="321.12" y="573.4">0</text>
<text x="350.36" y="573.4">1</text>
<text x="379.6" y="573.4">2</text>
<text x="408.84" y="573.4">3</text>
<text x="438.08" y="573.4">4</text>
<text x="467.32" y="573.4">5</text>
<text x="496.56" y="573.4">6</text>
</g>
<text x="409.74" y="590.4" font-size="11.7" font-weight="bold" text-anchor="middle">Weeks</text>
<text transform="translate(281.5 487.28) rotate(-90)" font-size="11.6" font-weight="bold" text-anchor="middle">CHr (pg)</text>
<text x="267.6" y="410" font-size="16.8" font-weight="bold">F</text>
<g stroke="#111" stroke-width="1.1" fill="none">
<path d="M321.12 471V480M318.12 471H324.12M318.12 480H324.12M350.36 491.5V509.3M347.36 491.5H353.36M347.36 509.3H353.36M379.6 509.3V521.1M376.6 509.3H382.6M376.6 521.1H382.6M408.84 497.8V514.1M405.84 497.8H411.84M405.84 514.1H411.84M438.08 488.1V501.2M435.08 488.1H441.08M435.08 501.2H441.08M467.32 476.5V501.9M464.32 476.5H470.32M464.32 501.9H470.32M496.56 480V492M493.56 480H499.56M493.56 492H499.56"/>
<path d="M321.12 471V480M318.12 471H324.12M318.12 480H324.12M350.36 470.8V487.3M347.36 470.8H353.36M347.36 487.3H353.36M379.6 493V507.2M376.6 493H382.6M376.6 507.2H382.6M408.84 479.5V488.5M405.84 479.5H411.84M405.84 488.5H411.84M438.08 474.5V483M435.08 474.5H441.08M435.08 483H441.08M467.32 472V481M464.32 472H470.32M464.32 481H470.32M496.56 470.5V479.3M493.56 470.5H499.56M493.56 479.3H499.56"/>
<path d="M321.12 462.3V475.9M318.12 462.3H324.12M318.12 475.9H324.12M350.36 431.6V446.4M347.36 431.6H353.36M347.36 446.4H353.36M379.6 435.2V469.1M376.6 435.2H382.6M376.6 469.1H382.6M408.84 447.5V464.8M405.84 447.5H411.84M405.84 464.8H411.84M438.08 463.8V473.2M435.08 463.8H441.08M435.08 473.2H441.08M467.32 465.7V475.4M464.32 465.7H470.32M464.32 475.4H470.32M496.56 460.4V468.9M493.56 460.4H499.56M493.56 468.9H499.56"/>
</g>
<polyline points="321.12,475.4 350.36,479.2 379.6,500 408.84,484 438.08,478.8 467.32,476.5 496.56,474.9" fill="none" stroke="#222" stroke-width="1.15" stroke-dasharray="1.2 1.1"/>
<polyline points="321.12,475.4 350.36,500.4 379.6,515.2 408.84,506.3 438.08,494.3 467.32,489.2 496.56,485.8" fill="none" stroke="#000" stroke-width="1.45"/>
<polyline points="321.12,469.1 350.36,439 379.6,452.2 408.84,456.5 438.08,468.5 467.32,470.3 496.56,465.7" fill="none" stroke="#000" stroke-width="1.4" stroke-dasharray="2.8 1.5"/>
<circle cx="321.12" cy="475.4" r="3" fill="#000"/>
<circle cx="350.36" cy="500.4" r="3" fill="#000"/>
<circle cx="379.6" cy="515.2" r="3" fill="#000"/>
<circle cx="408.84" cy="506.3" r="3" fill="#000"/>
<circle cx="438.08" cy="494.3" r="3" fill="#000"/>
<circle cx="467.32" cy="489.2" r="3" fill="#000"/>
<circle cx="496.56" cy="485.8" r="3" fill="#000"/>
<path d="M321.12 472.27L324.02 477.49L318.22 477.49Z" fill="#fff" stroke="#000" stroke-width="1.3"/>
<path d="M350.36 476.07L353.26 481.29L347.46 481.29Z" fill="#fff" stroke="#000" stroke-width="1.3"/>
<path d="M379.6 496.87L382.5 502.09L376.7 502.09Z" fill="#fff" stroke="#000" stroke-width="1.3"/>
<path d="M408.84 480.87L411.74 486.09L405.94 486.09Z" fill="#fff" stroke="#000" stroke-width="1.3"/>
<path d="M438.08 475.67L440.98 480.89L435.18 480.89Z" fill="#fff" stroke="#000" stroke-width="1.3"/>
<path d="M467.32 473.37L470.22 478.59L464.42 478.59Z" fill="#fff" stroke="#000" stroke-width="1.3"/>
<path d="M496.56 471.77L499.46 476.99L493.66 476.99Z" fill="#fff" stroke="#000" stroke-width="1.3"/>
<rect x="318.22" y="466.2" width="5.8" height="5.8" fill="#000"/>
<rect x="347.46" y="436.1" width="5.8" height="5.8" fill="#000"/>
<rect x="376.7" y="449.3" width="5.8" height="5.8" fill="#000"/>
<rect x="405.94" y="453.6" width="5.8" height="5.8" fill="#000"/>
<rect x="435.18" y="465.6" width="5.8" height="5.8" fill="#000"/>
<rect x="464.42" y="467.4" width="5.8" height="5.8" fill="#000"/>
<rect x="493.66" y="462.8" width="5.8" height="5.8" fill="#000"/>
<g fill="#3c3c3c">
<circle cx="319.05" cy="455.5" r="1.55"/>
<circle cx="323.35" cy="455.5" r="1.55"/>
<circle cx="346.1" cy="425.3" r="1.55"/>
<circle cx="350.4" cy="425.3" r="1.55"/>
<circle cx="354.7" cy="425.3" r="1.55"/>
<circle cx="346.1" cy="465.5" r="1.55"/>
<circle cx="350.4" cy="465.5" r="1.55"/>
<circle cx="354.7" cy="465.5" r="1.55"/>
<circle cx="375.3" cy="429.5" r="1.55"/>
<circle cx="379.6" cy="429.5" r="1.55"/>
<circle cx="383.9" cy="429.5" r="1.55"/>
<circle cx="375.3" cy="486" r="1.55"/>
<circle cx="379.6" cy="486" r="1.55"/>
<circle cx="383.9" cy="486" r="1.55"/>
<circle cx="404.5" cy="441.2" r="1.55"/>
<circle cx="408.8" cy="441.2" r="1.55"/>
<circle cx="413.1" cy="441.2" r="1.55"/>
<circle cx="404.5" cy="475.8" r="1.55"/>
<circle cx="408.8" cy="475.8" r="1.55"/>
<circle cx="413.1" cy="475.8" r="1.55"/>
<circle cx="433.8" cy="455.1" r="1.55"/>
<circle cx="438.1" cy="455.1" r="1.55"/>
<circle cx="442.4" cy="455.1" r="1.55"/>
<circle cx="444.6" cy="483.5" r="1.55"/>
<circle cx="448.9" cy="483.5" r="1.55"/>
<circle cx="453.2" cy="483.5" r="1.55"/>
<circle cx="463.1" cy="457.4" r="1.55"/>
<circle cx="467.4" cy="457.4" r="1.55"/>
<circle cx="471.7" cy="457.4" r="1.55"/>
<circle cx="474.45" cy="481.2" r="1.55"/>
<circle cx="478.75" cy="481.2" r="1.55"/>
<circle cx="492.6" cy="453.5" r="1.55"/>
<circle cx="496.9" cy="453.5" r="1.55"/>
<circle cx="501.2" cy="453.5" r="1.55"/>
<circle cx="504.9" cy="476.5" r="1.55"/>
<circle cx="509.2" cy="476.5" r="1.55"/>
<circle cx="513.5" cy="476.5" r="1.55"/>
</g>
<line x1="428.3" y1="513.9" x2="455" y2="513.9" stroke="#000" stroke-width="1.5"/>
<line x1="428.3" y1="528.2" x2="455" y2="528.2" stroke="#222" stroke-width="1.15" stroke-dasharray="1.2 1.1"/>
<line x1="428.3" y1="542.1" x2="455" y2="542.1" stroke="#000" stroke-width="1.4" stroke-dasharray="2.8 1.5"/>
<circle cx="441.7" cy="513.9" r="2.4" fill="#000"/>
<path d="M441.7 525.82L443.9 529.78L439.5 529.78Z" fill="#fff" stroke="#000" stroke-width="1.3"/>
<rect x="439.3" y="539.7" width="4.8" height="4.8" fill="#000"/>
<g font-size="7.6" fill="#111">
<text x="458.2" y="517.3">WT</text>
<text x="458.2" y="531.6">IL-6-KO</text>
<text x="458.2" y="545.5">Hamp-KO</text>
</g>
</svg>
</body></html>
